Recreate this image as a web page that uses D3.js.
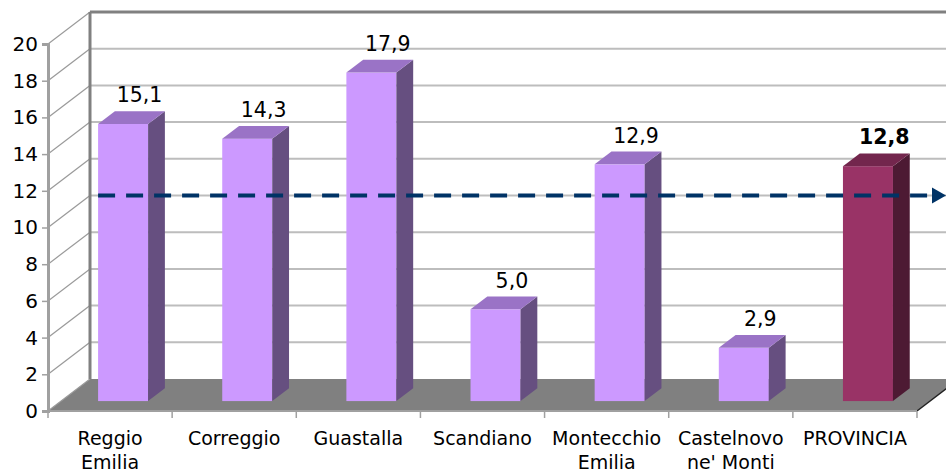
<!DOCTYPE html>
<html>
<head>
<meta charset="utf-8">
<script src="https://cdn.jsdelivr.net/npm/d3@7"></script>
<style>
  body { margin: 0; background: #fff; }
  text { font-family: "DejaVu Sans", Verdana, sans-serif; }
</style>
</head>
<body>
<div id="chart"></div>
<script>
// data
var categories = ["Reggio Emilia", "Correggio", "Guastalla", "Scandiano", "Montecchio Emilia", "Castelnovo ne' Monti", "PROVINCIA"];
var labelLines = [["Reggio", "Emilia"], ["Correggio"], ["Guastalla"], ["Scandiano"], ["Montecchio", "Emilia"], ["Castelnovo", "ne' Monti"], ["PROVINCIA"]];
var values = [15.1, 14.3, 17.9, 5.0, 12.9, 2.9, 12.8];
var refValue = 11.2;
var yTicks = [0, 2, 4, 6, 8, 10, 12, 14, 16, 18, 20];

var W = 946, H = 473;
var plotLeft = 48, plotRight = 917, plotBottom = 411, plotTop = 44;
var depth = {dx: 42, dy: -32};      // full depth of the 3d box
var barT = 0.31, barD = 0.4;         // bar front position and bar depth as fraction of full depth

var svg = d3.select("#chart").append("svg")
  .attr("width", W)
  .attr("height", H);

var y = d3.scaleLinear().domain([0, 20]).range([plotBottom, plotTop]);
var x = d3.scaleBand().domain(categories).range([plotLeft, plotRight]).paddingInner(0).paddingOuter(0);

function off(t) { return [depth.dx * t, depth.dy * t]; }

// ---- walls ----
var back = off(1);
// floor
svg.append("polygon")
  .attr("points", [[plotLeft, plotBottom], [plotRight, plotBottom], [plotRight + back[0], plotBottom + back[1]], [plotLeft + back[0], plotBottom + back[1]]].join(" "))
  .style("fill", "#808080");
svg.append("line")
  .attr("x1", plotRight).attr("y1", plotBottom)
  .attr("x2", plotRight + back[0]).attr("y2", plotBottom + back[1])
  .style("stroke", "#222").style("stroke-width", 1.5);

// back wall gridlines
svg.selectAll("line.grid")
  .data(yTicks.filter(function(d) { return d > 0; }))
  .enter().append("line")
  .attr("class", "grid")
  .attr("x1", plotLeft + back[0]).attr("x2", W)
  .attr("y1", function(d) { return y(d) + back[1]; })
  .attr("y2", function(d) { return y(d) + back[1]; })
  .style("stroke", function(d) { return d == 20 ? "#808080" : "#BDBDBD"; })
  .style("stroke-width", function(d) { return d == 20 ? 3 : 2; });

// side wall diagonals
svg.selectAll("line.diag")
  .data(yTicks)
  .enter().append("line")
  .attr("class", "diag")
  .attr("x1", plotLeft).attr("x2", plotLeft + back[0])
  .attr("y1", function(d) { return y(d); })
  .attr("y2", function(d) { return y(d) + back[1]; })
  .style("stroke", "#9A9A9A").style("stroke-width", 1.2);

// back wall vertical edge
svg.append("line")
  .attr("x1", plotLeft + back[0]).attr("x2", plotLeft + back[0])
  .attr("y1", y(20) + back[1]).attr("y2", plotBottom + back[1])
  .style("stroke", "#808080").style("stroke-width", 3);

// ---- axes ----
var yAxis = d3.axisLeft(y).tickValues(yTicks).tickSize(6).tickPadding(4).tickFormat(d3.format("d"));
var gY = svg.append("g").attr("transform", "translate(" + plotLeft + ",0)").call(yAxis);
gY.select(".domain").style("stroke", "#A0A0A0").style("stroke-width", 3);
gY.selectAll(".tick line").style("stroke", "#A0A0A0").style("stroke-width", 1.5);
gY.selectAll(".tick text").style("font-size", "20px").style("fill", "#000")
  .attr("font-family", "DejaVu Sans");

// front edge of floor and category ticks
svg.append("line")
  .attr("x1", plotLeft).attr("x2", plotRight).attr("y1", plotBottom).attr("y2", plotBottom)
  .style("stroke", "#A0A0A0").style("stroke-width", 2);
var bounds = categories.map(function(c) { return x(c); }).concat([plotRight]);
svg.selectAll("line.xtick")
  .data(bounds)
  .enter().append("line")
  .attr("class", "xtick")
  .attr("x1", function(d) { return d; }).attr("x2", function(d) { return d; })
  .attr("y1", plotBottom).attr("y2", plotBottom + 7)
  .style("stroke", "#A0A0A0").style("stroke-width", 1.5);

// category labels
var catLabels = svg.selectAll("text.cat")
  .data(categories)
  .enter().append("text")
  .attr("class", "cat")
  .attr("text-anchor", "middle")
  .style("font-size", "19px")
  .attr("x", function(d) { return x(d) + x.bandwidth() / 2; })
  .attr("y", 445);
catLabels.each(function(d, i) {
  var t = d3.select(this);
  labelLines[i].forEach(function(line, j) {
    t.append("tspan")
      .attr("x", x(d) + x.bandwidth() / 2)
      .attr("dy", j == 0 ? 0 : 24)
      .text(line);
  });
});

// ---- bars ----
var barW = 50;
var f = off(barT), b = off(barT + barD);
var colors = {
  normal: {front: "#CC99FF", top: "#9A73C6", side: "#664F80"},
  prov: {front: "#993366", top: "#73264D", side: "#4D1A33"}
};

var bars = svg.selectAll("g.bar")
  .data(values)
  .enter().append("g")
  .attr("class", "bar");

bars.each(function(v, i) {
  var g = d3.select(this);
  var c = categories[i] == "PROVINCIA" ? colors.prov : colors.normal;
  var x0 = x(categories[i]) + x.bandwidth() / 2 - barW / 2 + f[0];
  var x1 = x0 + barW;
  var y0 = y(0) + f[1];
  var yv = y(v) + f[1];
  var ddx = b[0] - f[0], ddy = b[1] - f[1];
  g.append("rect")
    .attr("x", x0).attr("y", yv)
    .attr("width", barW).attr("height", y0 - yv)
    .style("fill", c.front);
  g.append("polygon")
    .attr("points", [[x1, yv], [x1 + ddx, yv + ddy], [x1 + ddx, y0 + ddy], [x1, y0]].join(" "))
    .style("fill", c.side);
  g.append("polygon")
    .attr("points", [[x0, yv], [x0 + ddx, yv + ddy], [x1 + ddx, yv + ddy], [x1, yv]].join(" "))
    .style("fill", c.top);
});

// ---- reference line ----
var refY = y(refValue) + f[1];
var lineStart = x(categories[0]) + x.bandwidth() / 2 - barW / 2 + f[0];
svg.append("line")
  .attr("x1", lineStart).attr("x2", W - 12)
  .attr("y1", refY).attr("y2", refY)
  .style("stroke", "#003366")
  .style("stroke-width", 4)
  .style("stroke-dasharray", "17,11");
svg.append("polygon")
  .attr("points", [[W - 14, refY - 8], [W, refY], [W - 14, refY + 8]].join(" "))
  .style("fill", "#003366");

// ---- value labels ----
var fmt = function(v) { return d3.format(".1f")(v).replace(".", ","); };
svg.selectAll("text.val")
  .data(values)
  .enter().append("text")
  .attr("class", "val")
  .attr("text-anchor", "middle")
  .style("font-size", "20.5px")
  .style("font-weight", function(d, i) { return categories[i] == "PROVINCIA" ? "bold" : "normal"; })
  .attr("x", function(d, i) { return x(categories[i]) + x.bandwidth() / 2 + (f[0] + b[0]) / 2 + 8; })
  .attr("y", function(d) { return y(d) + b[1] - 9; })
  .text(fmt);
</script>
</body>
</html>
